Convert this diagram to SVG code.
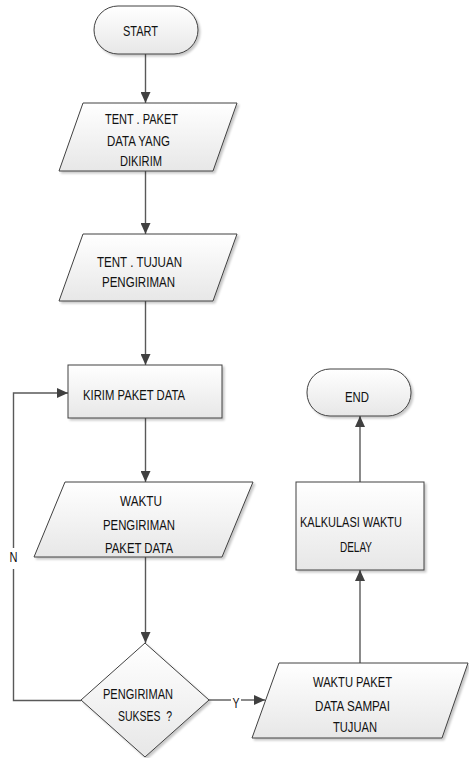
<svg xmlns="http://www.w3.org/2000/svg" width="469" height="758" viewBox="0 0 469 758">
  <defs>
    <linearGradient id="shapeFill" x1="0" y1="0" x2="0" y2="1">
      <stop offset="0" stop-color="#ffffff"/>
      <stop offset="1" stop-color="#e7e7e7"/>
    </linearGradient>
    <filter id="shadow" x="-10%" y="-10%" width="130%" height="130%">
      <feDropShadow dx="2" dy="2" stdDeviation="1" flood-color="#000000" flood-opacity="0.22"/>
    </filter>
    <marker id="arrow" markerUnits="userSpaceOnUse" markerWidth="11" markerHeight="10" refX="11" refY="5" orient="auto">
      <path d="M0,0 L11,5 L0,10 z" fill="#404040"/>
    </marker>
  </defs>
  <style>
    .shape { fill: url(#shapeFill); stroke: #404040; stroke-width: 1; filter: url(#shadow); }
    .conn { fill: none; stroke: #595959; stroke-width: 1.4; }
    .arr { marker-end: url(#arrow); }
    text { font-family: "Liberation Sans", Arial, sans-serif; font-size: 14.5px; fill: #111111; }
    .lbl { text-anchor: middle; font-size: 14px; }
  </style>

  <rect width="469" height="758" fill="#ffffff"/>

  <!-- connectors -->
  <g id="connectors">
    <path class="conn arr" d="M145.5,54 V103"/>
    <path class="conn arr" d="M145.5,171 V234"/>
    <path class="conn arr" d="M145.5,301 V365"/>
    <path class="conn arr" d="M145.5,418 V482"/>
    <path class="conn arr" d="M145.5,557 V643"/>
    <!-- yes branch -->
    <path class="conn" d="M209,700 H231"/>
    <path class="conn arr" d="M241,700 H265"/>
    <text class="lbl" x="236" y="708" textLength="7" lengthAdjust="spacingAndGlyphs">Y</text>
    <!-- no branch, back to sending -->
    <path class="conn" d="M81,700.5 H13.5 V569"/>
    <path class="conn arr" d="M13.5,548 V393 H68"/>
    <text class="lbl" x="13.5" y="562" textLength="8" lengthAdjust="spacingAndGlyphs">N</text>
    <!-- right column -->
    <path class="conn arr" d="M360,663 V570"/>
    <path class="conn arr" d="M360,482 V416"/>
  </g>

  <g id="start">
    <rect class="shape" x="94" y="6" width="104" height="48" rx="24" ry="24"/>
    <text x="123" y="36" textLength="35" lengthAdjust="spacingAndGlyphs">START</text>
  </g>

  <g id="tent-paket">
    <polygon class="shape" points="83,103 237,103 213,171 59,171"/>
    <text x="105" y="124" textLength="73" lengthAdjust="spacingAndGlyphs">TENT . PAKET</text>
    <text x="107" y="146" textLength="63" lengthAdjust="spacingAndGlyphs">DATA YANG</text>
    <text x="120" y="166" textLength="42" lengthAdjust="spacingAndGlyphs">DIKIRIM</text>
  </g>

  <g id="tent-tujuan">
    <polygon class="shape" points="83,234 237,234 213,301 59,301"/>
    <text x="97" y="267" textLength="85" lengthAdjust="spacingAndGlyphs">TENT . TUJUAN</text>
    <text x="102" y="287" textLength="73" lengthAdjust="spacingAndGlyphs">PENGIRIMAN</text>
  </g>

  <g id="kirim-paket">
    <rect class="shape" x="68" y="365" width="154" height="53"/>
    <text x="83" y="400" textLength="102" lengthAdjust="spacingAndGlyphs">KIRIM PAKET DATA</text>
  </g>

  <g id="waktu-pengiriman">
    <polygon class="shape" points="65,482 253,482 222,557 34,557"/>
    <text x="120" y="506" textLength="42" lengthAdjust="spacingAndGlyphs">WAKTU</text>
    <text x="103" y="530" textLength="72" lengthAdjust="spacingAndGlyphs">PENGIRIMAN</text>
    <text x="105" y="553" textLength="68" lengthAdjust="spacingAndGlyphs">PAKET DATA</text>
  </g>

  <g id="cek-sukses">
    <polygon class="shape" points="145,643 209,700 145,757 81,700"/>
    <text x="103" y="699" textLength="70" lengthAdjust="spacingAndGlyphs">PENGIRIMAN</text>
    <text x="118" y="721" textLength="54" lengthAdjust="spacingAndGlyphs" style="white-space:pre">SUKSES  ?</text>
  </g>

  <g id="waktu-sampai">
    <polygon class="shape" points="279,663 468,663 442,738 252,738"/>
    <text x="313" y="687" textLength="79" lengthAdjust="spacingAndGlyphs">WAKTU PAKET</text>
    <text x="315" y="711" textLength="75" lengthAdjust="spacingAndGlyphs">DATA SAMPAI</text>
    <text x="333" y="732" textLength="44" lengthAdjust="spacingAndGlyphs">TUJUAN</text>
  </g>

  <g id="kalkulasi">
    <rect class="shape" x="296" y="482" width="128" height="88"/>
    <text x="300" y="527" textLength="102" lengthAdjust="spacingAndGlyphs">KALKULASI WAKTU</text>
    <text x="340" y="552" textLength="32" lengthAdjust="spacingAndGlyphs">DELAY</text>
  </g>

  <g id="end">
    <rect class="shape" x="307" y="369" width="104" height="47" rx="23" ry="23"/>
    <text x="345" y="402" textLength="24" lengthAdjust="spacingAndGlyphs">END</text>
  </g>
</svg>
